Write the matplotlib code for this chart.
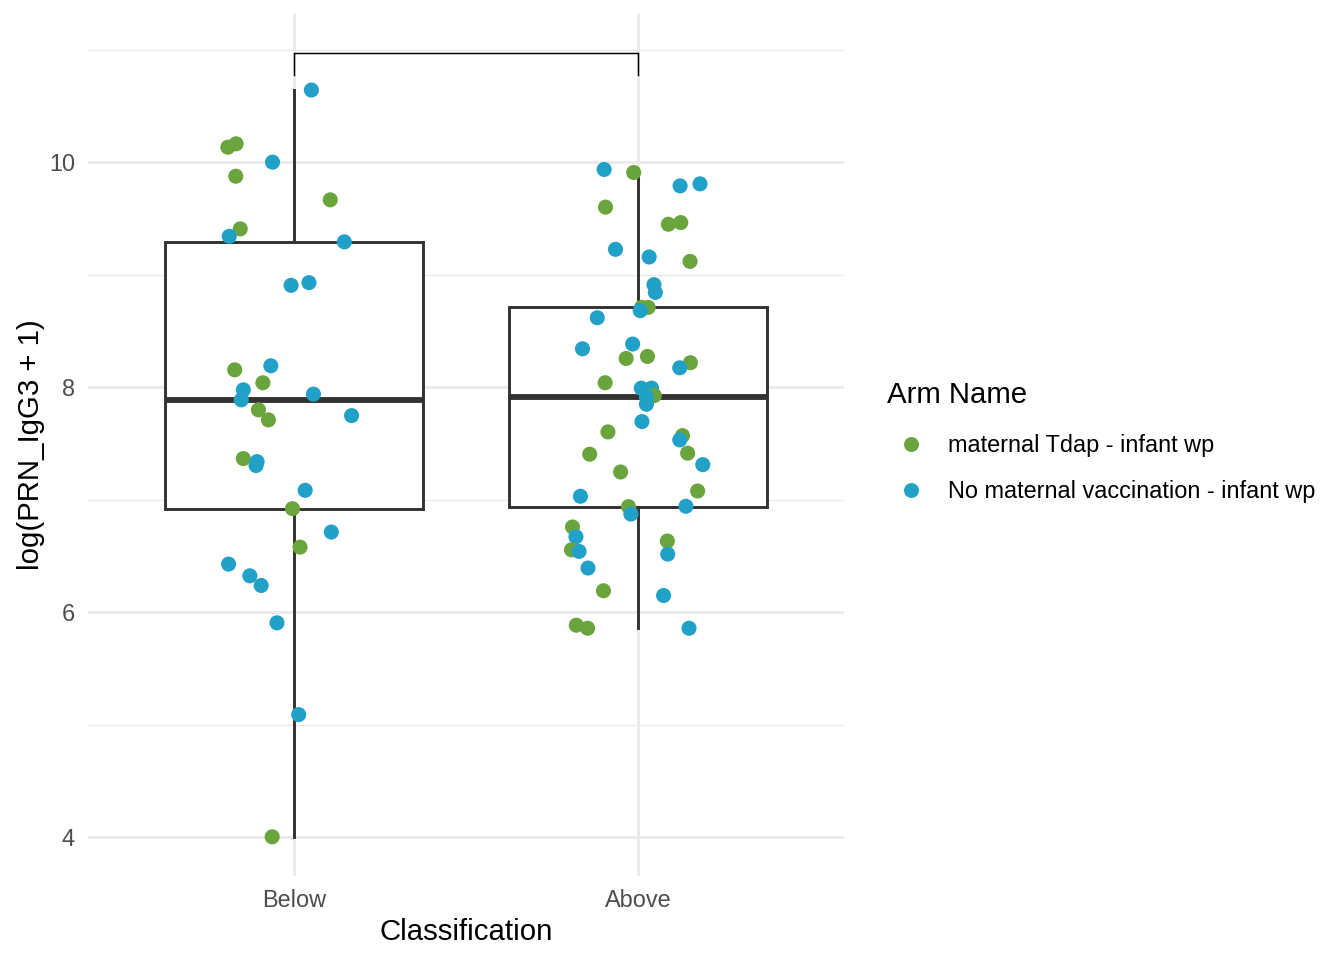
import matplotlib
matplotlib.use("Agg")
import matplotlib.pyplot as plt
from matplotlib.lines import Line2D
import numpy as np

# ---------------- data ----------------
categories = ["Below", "Above"]
arm_names = ["maternal Tdap - infant wp", "No maternal vaccination - infant wp"]
arm_colors = ["#6AA43C", "#21A0C8"]

below_values = [10.644, 10.136, 10.166, 10.003, 9.878, 9.668, 9.410, 9.344, 9.294,
                8.908, 8.932, 8.157, 8.193, 8.042, 7.979, 7.890, 7.941, 7.801,
                7.712, 7.750, 7.368, 7.341, 7.306, 7.086, 6.923, 6.715, 6.581,
                6.430, 6.326, 6.240, 5.908, 5.092, 4.006]
below_arms = [1, 0, 0, 1, 0, 0, 0, 1, 1,
              1, 1, 0, 1, 0, 1, 1, 1, 0,
              0, 1, 0, 1, 1, 1, 0, 1, 0,
              1, 1, 1, 1, 1, 0]
below_jitter = [0.050, -0.193, -0.169, -0.063, -0.170, 0.105, -0.157, -0.189, 0.146,
                -0.009, 0.043, -0.173, -0.068, -0.091, -0.148, -0.154, 0.056, -0.104,
                -0.075, 0.167, -0.148, -0.108, -0.111, 0.032, -0.005, 0.108, 0.017,
                -0.191, -0.129, -0.096, -0.050, 0.013, -0.064]

above_values = [9.938, 9.911, 9.792, 9.810, 9.603, 9.451, 9.466, 9.228, 9.160,
                9.121, 8.914, 8.845, 8.712, 8.712, 8.683, 8.620, 8.344, 8.386,
                8.258, 8.276, 8.220, 8.175, 8.042, 7.994, 7.994, 7.928, 7.915,
                7.851, 7.697, 7.605, 7.572, 7.534, 7.407, 7.416, 7.314, 7.249,
                7.080, 7.033, 6.941, 6.944, 6.875, 6.760, 6.673, 6.635, 6.557,
                6.543, 6.519, 6.395, 6.193, 6.151, 5.887, 5.860, 5.860]
above_arms = [1, 0, 1, 1, 0, 0, 0, 1, 1,
              0, 1, 1, 0, 0, 1, 1, 1, 1,
              0, 0, 0, 1, 0, 1, 1, 0, 1,
              1, 1, 0, 0, 1, 0, 0, 1, 0,
              0, 1, 0, 1, 1, 0, 1, 0, 0,
              1, 1, 1, 0, 1, 0, 0, 1]
above_jitter = [-0.098, -0.012, 0.123, 0.181, -0.094, 0.089, 0.125, -0.065, 0.033,
                0.152, 0.047, 0.051, 0.011, 0.030, 0.007, -0.118, -0.161, -0.015,
                -0.034, 0.028, 0.153, 0.122, -0.095, 0.010, 0.040, 0.048, 0.025,
                0.025, 0.012, -0.087, 0.130, 0.122, -0.140, 0.145, 0.189, -0.050,
                0.174, -0.167, -0.027, 0.140, -0.020, -0.190, -0.180, 0.086, -0.193,
                -0.171, 0.087, -0.145, -0.100, 0.075, -0.179, -0.146, 0.149]

bracket_y = 10.975
bracket_tip = 10.78
y_ticks = [4, 6, 8, 10]

# ---------------- style ----------------
plt.rcParams["font.family"] = ["Liberation Sans", "DejaVu Sans"]
GRAY30 = "#4D4D4D"
GRID = "#EBEBEB"
BOX = "#333333"

fig = plt.figure(figsize=(7, 5), dpi=192)
ax = fig.add_axes([88 / 1344, 84 / 960, (844 - 88) / 1344, (946.4 - 84) / 960])

positions = [1, 2]
groups = [below_values, above_values]

# limits and grid
ymin_data = min(min(below_values), min(above_values))
ymax_data = max(max(below_values), max(above_values), bracket_y)
rng = ymax_data - ymin_data
ylo, yhi = ymin_data - 0.05 * rng, ymax_data + 0.05 * rng
ax.set_ylim(ylo, yhi)
ax.set_xlim(0.4, 2.6)
ax.set_yticks(y_ticks)
ax.set_yticks([5, 7, 9, 11], minor=True)
ax.grid(True, which="major", color=GRID, linewidth=1.1)
ax.grid(True, which="minor", axis="y", color=GRID, linewidth=0.55)
ax.set_axisbelow(True)
for s in ax.spines.values():
    s.set_visible(False)

# boxplot
ax.boxplot(groups, positions=positions, widths=0.75, showfliers=False, whis=1.5,
           patch_artist=True,
           boxprops=dict(facecolor="white", edgecolor=BOX, linewidth=1.1),
           whiskerprops=dict(color=BOX, linewidth=1.1),
           capprops=dict(linewidth=0),
           medianprops=dict(color=BOX, linewidth=2.2, solid_capstyle="butt"),
           zorder=2)
ax.set_xticks(positions)
ax.set_xticklabels(categories)
ax.set_xlim(0.4, 2.6)
ax.tick_params(which="both", length=0, pad=4.95, labelsize=8.8, labelcolor=GRAY30)

# jittered points
for pos, vals, arms, jit in [(1, below_values, below_arms, below_jitter),
                             (2, above_values, above_arms, above_jitter)]:
    xs = np.array(jit) + pos
    cols = [arm_colors[a] for a in arms]
    ax.scatter(xs, vals, s=32, c=cols, linewidths=0, zorder=3)

# significance bracket
ax.plot([1, 1, 2, 2], [bracket_tip, bracket_y, bracket_y, bracket_tip],
        color="black", linewidth=0.55, zorder=4, solid_joinstyle="miter")

ax.set_xlabel("Classification", fontsize=11, color="black", labelpad=2.3)
ax.set_ylabel("log(PRN_IgG3 + 1)", fontsize=11, color="black", labelpad=1.5)

# legend
handles = [Line2D([], [], marker="o", linestyle="none", markersize=5.6,
                  markerfacecolor=c, markeredgewidth=0, label=n)
           for c, n in zip(arm_colors, arm_names)]
leg = fig.legend(handles=handles, title="Arm Name", loc="center left",
                 bbox_to_anchor=(887 / 1344, 1 - 442 / 960), frameon=False,
                 fontsize=8.8, title_fontsize=11, handlelength=2.05,
                 handletextpad=0.55, labelspacing=1.0, borderpad=0,
                 borderaxespad=0, alignment="left")
leg._legend_box.sep = 9.4

fig.savefig("out.png", dpi=192, facecolor="white")
